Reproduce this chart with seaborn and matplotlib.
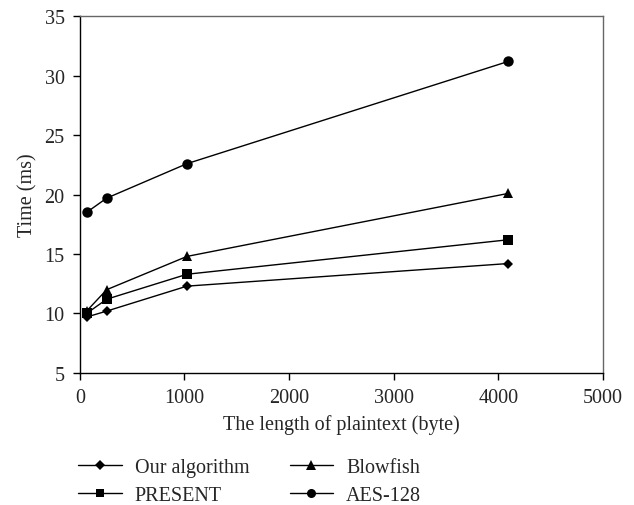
import numpy as np
import pandas as pd
import matplotlib.pyplot as plt
import seaborn as sns

# plaintext lengths (byte) and encryption times (ms)
lengths = [64, 256, 1024, 4096]
our_algorithm = [9.7, 10.2, 12.3, 14.2]
present = [10.0, 11.2, 13.3, 16.2]
blowfish = [10.2, 12.0, 14.8, 20.1]
aes128 = [18.5, 19.7, 22.6, 31.2]

series_names = ["Our algorithm", "PRESENT", "Blowfish", "AES-128"]
series_values = [our_algorithm, present, blowfish, aes128]

rows = []
for name, vals in zip(series_names, series_values):
    for x, y in zip(lengths, vals):
        rows.append({"Length": x, "Time": y, "Algorithm": name})
df = pd.DataFrame(rows)

sns.set_style("ticks")
plt.rcParams["font.family"] = ["Liberation Serif", "DejaVu Serif"]
plt.rcParams["axes.linewidth"] = 1.0

fig = plt.figure(figsize=(6.34, 5.06), dpi=100)
ax = fig.add_axes([0.126, 0.261, 0.825, 0.705])

marker_map = {"Our algorithm": "D", "PRESENT": "s", "Blowfish": "^", "AES-128": "o"}
size_map = {"Our algorithm": 5.5, "PRESENT": 6.5, "Blowfish": 7, "AES-128": 7.5}
legend_size = {"Our algorithm": 5, "PRESENT": 6, "Blowfish": 6.5, "AES-128": 6.5}

sns.lineplot(
    data=df, x="Length", y="Time", hue="Algorithm", style="Algorithm",
    hue_order=series_names, style_order=series_names,
    palette=["black"] * 4, markers=marker_map, dashes=False,
    linewidth=1.0, markersize=6, markeredgewidth=0, ax=ax, legend=True,
)
for line, name in zip(ax.lines, series_names):
    line.set_markersize(size_map[name])

ax.set_xlim(0, 5000)
ax.set_ylim(5, 35)
ax.set_xticks(np.arange(0, 5001, 1000))
ax.set_yticks(np.arange(5, 36, 5))
ax.tick_params(labelsize=14.5, direction="out", length=5, width=1,
               color="black", pad=6)
ax.set_xlabel("The length of plaintext (byte)", fontsize=14.5, labelpad=5)
ax.set_ylabel("Time (ms)", fontsize=14.5, labelpad=5)

for side in ["top", "right"]:
    ax.spines[side].set_visible(True)
    ax.spines[side].set_color("#666666")
ax.spines["left"].set_color("black")
ax.spines["bottom"].set_color("black")

handles, labels = ax.get_legend_handles_labels()
ax.get_legend().remove()
for h, name in zip(handles, labels):
    h.set_markersize(legend_size[name])
fig.legend(
    handles, labels, loc="upper left", bbox_to_anchor=(0.095, 0.128),
    ncol=2, frameon=False, fontsize=14.5, handlelength=2.15,
    handletextpad=0.65, columnspacing=2.0, labelspacing=0.4,
)

fig.savefig("out.png", dpi=100)
